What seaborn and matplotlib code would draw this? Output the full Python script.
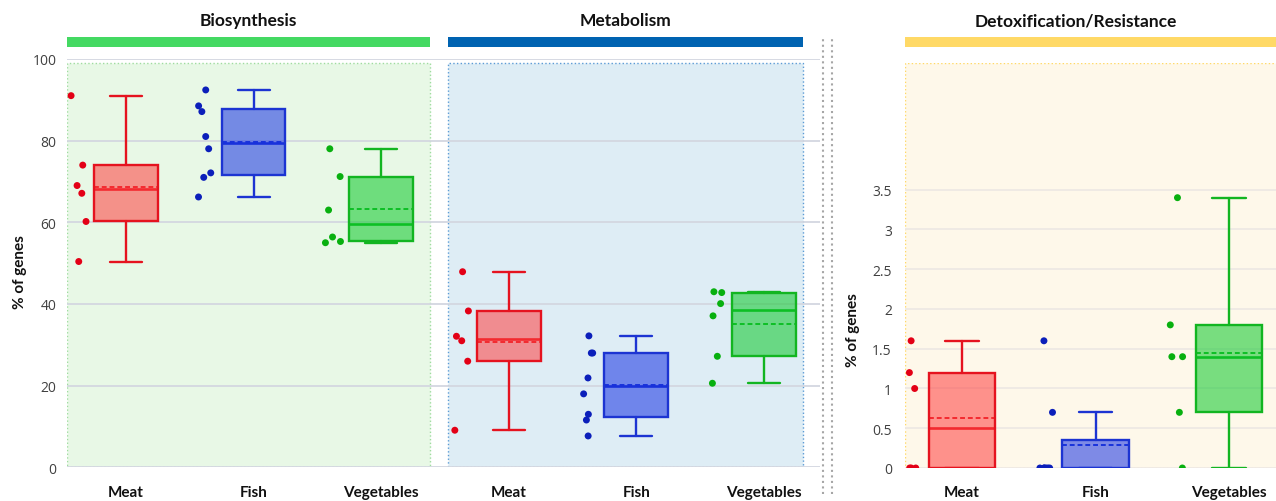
import numpy as np
import pandas as pd
import matplotlib.pyplot as plt
import matplotlib.colors as mcolors
import matplotlib.transforms as mtransforms
from matplotlib.patches import Rectangle
from matplotlib.lines import Line2D
import seaborn as sns

sns.set_style("white")
plt.rcParams['font.family'] = ['Open Sans', 'DejaVu Sans']
BOLD = ['Lato', 'DejaVu Sans']

foods = ["Meat", "Fish", "Vegetables"]

# % of genes per sample
bio_meat = [91.0, 74.0, 69.0, 67.1, 60.2, 50.4]
bio_fish = [92.4, 88.5, 87.1, 81.0, 78.0, 72.1, 71.0, 66.2]
bio_veg = [78.0, 71.2, 63.0, 56.4, 55.3, 55.0]
met_meat = [47.9, 38.3, 32.1, 31.0, 26.0, 9.1]
met_fish = [32.2, 28.0, 28.0, 21.9, 18.0, 13.0, 11.6, 7.7]
met_veg = [43.0, 42.8, 40.1, 37.1, 27.2, 20.6]
det_meat = [1.6, 1.2, 1.0, 0.0, 0.0, 0.0]
det_fish = [1.6, 0.7, 0.0, 0.0, 0.0, 0.0, 0.0, 0.0]
det_veg = [3.4, 1.8, 1.4, 1.4, 0.7, 0.0]

left_groups = [bio_meat, bio_fish, bio_veg, met_meat, met_fish, met_veg]
right_groups = [det_meat, det_fish, det_veg]

line_col = {"Meat": "#e5131f", "Fish": "#1c34d2", "Vegetables": "#12b521"}
fill_col = {"Meat": "#ff3d3d", "Fish": "#1530e4", "Vegetables": "#0ac828"}
dot_col = {"Meat": "#e30016", "Fish": "#0b1fba", "Vegetables": "#08b00f"}


def hinge_stats(vals, whis=1.5):
    # Tukey hinges, whiskers to last point inside 1.5 IQR
    v = np.sort(np.asarray(vals, float))
    n = len(v)
    half = (n + 1) // 2
    q1, q3 = np.median(v[:half]), np.median(v[n - half:])
    iqr = q3 - q1
    return dict(med=np.median(v), q1=q1, q3=q3, mean=v.mean(), fliers=[],
                whislo=v[v >= q1 - whis * iqr].min(),
                whishi=v[v <= q3 + whis * iqr].max())


def draw_group(ax, groups, alpha):
    rows = []
    for i, vals in enumerate(groups):
        food = foods[i % 3]
        lc = line_col[food]
        art = ax.bxp([hinge_stats(vals)], positions=[i], widths=0.5, patch_artist=True,
                     showmeans=True, meanline=True, showfliers=False, manage_ticks=False,
                     boxprops=dict(facecolor=mcolors.to_rgba(fill_col[food], alpha),
                                   edgecolor=lc, linewidth=1.7),
                     whiskerprops=dict(color=lc, linewidth=1.7),
                     capprops=dict(color=lc, linewidth=1.7),
                     medianprops=dict(color=lc, linewidth=1.9),
                     meanprops=dict(color=lc, linewidth=1.4, linestyle=(0, (2.5, 1.5))))
        for b in art["boxes"]:
            b.set_zorder(3)
        for v in vals:
            rows.append({"pos": i - 0.375, "value": v, "food": food})
    df = pd.DataFrame(rows)
    sns.stripplot(data=df, x="pos", y="value", hue="food", palette=dot_col, native_scale=True,
                  orient="x", jitter=0.065, size=5, linewidth=0, legend=False, ax=ax, zorder=4)


np.random.seed(7)
fig = plt.figure(figsize=(12.76, 5.02), dpi=100)
axL = fig.add_axes([67 / 1276, 33.6 / 502, 753 / 1276, 408.5 / 502])
axR = fig.add_axes([905 / 1276, 33 / 502, 371 / 1276, 405 / 502])

# left: Biosynthesis + Metabolism
axL.add_patch(Rectangle((-0.462, 0), 2.844, 99, facecolor="#e8f8e6", edgecolor="#9fdc9f",
                        linestyle=":", linewidth=1.0, zorder=0))
axL.add_patch(Rectangle((2.524, 0), 2.782, 99, facecolor="#deedf5", edgecolor="#5b9bd5",
                        linestyle=":", linewidth=1.0, zorder=0))
draw_group(axL, left_groups, 0.55)
axL.set_xlim(-0.462, 5.439)
axL.set_ylim(0, 100)
axL.set_yticks([0, 20, 40, 60, 80, 100])
axL.grid(axis="y", color="#d3d7e0", linewidth=1.3)
axL.set_axisbelow(True)
axL.set_xticks(range(6))
axL.set_xticklabels(foods * 2, fontweight="bold", fontsize=11, color="#111111", family=BOLD)
axL.tick_params(axis="x", length=0, pad=13)
axL.tick_params(axis="y", length=6, width=1, color="#d3d7e0", pad=1.5, labelsize=10,
                labelcolor="#404040")
axL.set_xlabel("")
axL.set_ylabel("% of genes", fontweight="bold", fontsize=11, color="#111111", family=BOLD)
axL.yaxis.set_label_coords(-0.053, 0.48)

# right: Detoxification/Resistance
axR.add_patch(Rectangle((-0.427, 0), 3.2, 5.094, facecolor="#fef8ea", edgecolor="#ffd966",
                        linestyle=":", linewidth=1.0, zorder=0))
draw_group(axR, right_groups, 0.55)
axR.set_xlim(-0.427, 2.352)
axR.set_ylim(0, 5.094)
ticks = np.arange(0, 3.51, 0.5)
axR.set_yticks(ticks)
axR.set_yticklabels([f"{t:g}" for t in ticks])
axR.grid(axis="y", color="#eee9e4", linewidth=1.3)
axR.set_axisbelow(True)
axR.set_xticks(range(3))
axR.set_xticklabels(foods, fontweight="bold", fontsize=11, color="#111111", family=BOLD)
axR.tick_params(axis="x", length=0, pad=12.5)
axR.tick_params(axis="y", length=8.5, width=1, color="#eee9e4", pad=1, labelsize=10,
                labelcolor="#404040")
axR.set_xlabel("")
axR.set_ylabel("% of genes", fontweight="bold", fontsize=11, color="#111111", family=BOLD)
axR.yaxis.set_label_coords(-0.12, 0.343)

for ax in (axL, axR):
    for s in ax.spines.values():
        s.set_visible(False)

# header bars and titles
bars = [(axL, -0.462, 2.382, "#44d962", "Biosynthesis", 0.96),
        (axL, 2.524, 5.306, "#0063b1", "Metabolism", 3.915),
        (axR, -0.427, 2.8, "#ffd966", "Detoxification/Resistance", 0.854)]
for ax, x0, x1, col, title, tx in bars:
    tr = mtransforms.blended_transform_factory(ax.transData, fig.transFigure)
    fig.add_artist(Rectangle((x0, 454 / 502), x1 - x0, 10 / 502, transform=tr,
                             facecolor=col, edgecolor="none"))
    fig.text(tx, 0.958, title, transform=tr, ha="center", va="center",
             fontweight="bold", fontsize=12.5, color="#111111", family=BOLD)

# dotted separator
for xp in (823, 832):
    fig.add_artist(Line2D([xp / 1276] * 2, [7 / 502, 464 / 502], transform=fig.transFigure,
                          linestyle=":", color="#a6a6a6", linewidth=1.5))

fig.savefig("out.png", dpi=100)
